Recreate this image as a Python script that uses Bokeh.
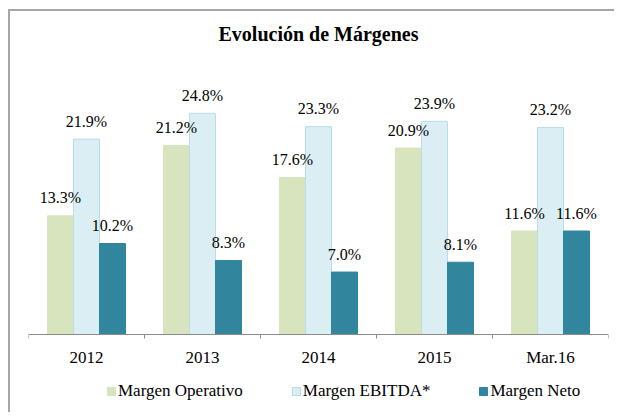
from bokeh.plotting import figure
from bokeh.models import FixedTicker, Legend, LegendItem, ColumnDataSource, Range1d
from bokeh.transform import dodge
from bokeh.embed import file_html
from bokeh.resources import INLINE
from bokeh.core.properties import value

categories = ["2012", "2013", "2014", "2015", "Mar.16"]
margen_operativo = [13.3, 21.2, 17.6, 20.9, 11.6]
margen_ebitda = [21.9, 24.8, 23.3, 23.9, 23.2]
margen_neto = [10.2, 8.3, 7.0, 8.1, 11.6]
series_names = ["Margen Operativo", "Margen EBITDA*", "Margen Neto"]
fill_colors = ["#d7e4bd", "#dbeef4", "#31859c"]
line_colors = ["#d7e4bd", "#b7dde8", "#31859c"]

FONT = "Liberation Serif"

xs = [i + 0.5 for i in range(len(categories))]
series = [margen_operativo, margen_ebitda, margen_neto]
data = dict(x=xs)
for k, s in zip(["op", "eb", "ne"], series):
    data[k] = s
    data[k + "_l"] = [f"{v:.1f}%" for v in s]
src = ColumnDataSource(data)

# layout (pixels)
W, H = 606, 403
TOP, LEFT, RIGHT = 42, 18, 8
FRAME_H = H - TOP
ABOVE = 281          # pixels of frame above the zero line
PXU = 8.92           # pixels per percentage point
y_end = ABOVE / PXU
y_start = -(FRAME_H - ABOVE) / PXU

p = figure(width=W, height=H, x_range=Range1d(0, len(categories)),
           y_range=Range1d(y_start, y_end), output_backend="svg", toolbar_location=None,
           min_border_left=LEFT, min_border_right=RIGHT, min_border_top=TOP,
           min_border_bottom=0,
           styles={"margin-left": "8px", "margin-top": "9px",
                   "border-top": "2px solid #a6a6a6", "border-left": "2px solid #a6a6a6"})

p.title.text = "Evolución de Márgenes"
p.title.text_font = FONT
p.title.text_font_size = "20px"
p.title.text_font_style = "bold"
p.title.align = "center"
p.title.text_color = "#000000"
p.title.standoff = 18

bw = 0.224
offsets = [-bw, 0.0, bw]
keys = ["op", "eb", "ne"]
renderers = []
for k, off, fc, lc in zip(keys, offsets, fill_colors, line_colors):
    r = p.vbar(x=dodge("x", off, range=p.x_range), top=k, bottom=0, width=bw, source=src,
               fill_color=fc, line_color=lc, line_width=1)
    renderers.append(r)
for k, off in zip(keys, offsets):
    p.text(x=dodge("x", off, range=p.x_range), y=k, text=k + "_l", source=src,
           text_align="center", text_baseline="alphabetic", y_offset=-18,
           text_font=value(FONT), text_font_size="16px", text_color="#000000")

p.yaxis.visible = False
p.grid.visible = False
p.outline_line_color = None

ax = p.xaxis[0]
ax.fixed_location = 0
ax.ticker = FixedTicker(ticks=xs, minor_ticks=list(range(len(categories) + 1)))
ax.major_label_overrides = {x: c for x, c in zip(xs, categories)}
ax.major_tick_line_color = None
ax.minor_tick_out = 4
ax.minor_tick_in = 0
ax.minor_tick_line_color = "#8c8c8c"
ax.axis_line_color = "#8c8c8c"
ax.major_label_text_font = FONT
ax.major_label_text_font_size = "17px"
ax.major_label_text_color = "#000000"
ax.major_label_standoff = 7

legend = Legend(items=[LegendItem(label=n, renderers=[r]) for n, r in zip(series_names, renderers)],
                orientation="horizontal", location=(78, 13), spacing=48,
                glyph_width=10, glyph_height=10, label_standoff=2,
                label_text_font=FONT, label_text_font_size="17px", label_text_color="#000000",
                border_line_color=None, background_fill_alpha=0, padding=0, margin=0)
p.add_layout(legend)

open("out.html", "w").write(file_html(p, INLINE))
